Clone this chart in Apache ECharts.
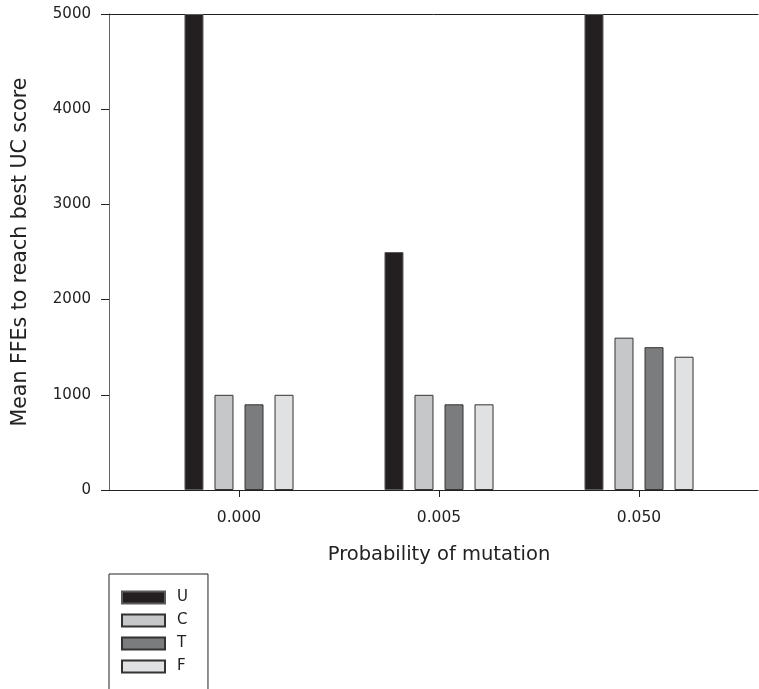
<!DOCTYPE html>
<html>
<head>
<meta charset="utf-8">
<script src="https://cdn.jsdelivr.net/npm/echarts@6/dist/echarts.min.js"></script>
<style>html,body{margin:0;padding:0;background:#fff;}#c{width:759px;height:689px;}</style>
</head>
<body>
<div id="c"></div>
<script>
const categories = ['0.000', '0.005', '0.050'];
const seriesNames = ['U', 'C', 'T', 'F'];
const valuesU = [5000, 2500, 5000];
const valuesC = [1000, 1000, 1600];
const valuesT = [900, 900, 1500];
const valuesF = [1000, 900, 1400];
const yTicks = [0, 1000, 2000, 3000, 4000, 5000];

const seriesValues = [valuesU, valuesC, valuesT, valuesF];
const fills = ['#231f20', '#c6c7c8', '#7b7c7e', '#e0e1e2'];
const borders = ['#5a5a5a', '#333333', '#333333', '#333333'];
const font = 'DejaVu Sans';
const textColor = '#222';

const chart = echarts.init(document.getElementById('c'));
chart.setOption({
  animation: false,
  backgroundColor: '#fff',
  grid: [
    { left: 139, width: 600, top: 14, height: 476 },
    { left: 109, right: 1, top: 14, height: 476 }
  ],
  xAxis: [
    {
      type: 'category', gridIndex: 0, data: categories,
      axisLine: { show: false },
      axisTick: { show: true, alignWithLabel: true, length: 7, lineStyle: { color: '#222' } },
      axisLabel: { margin: 20, fontFamily: font, fontSize: 15.5, color: textColor },
      name: 'Probability of mutation', nameLocation: 'middle', nameGap: 55,
      nameTextStyle: { fontFamily: font, fontSize: 19.5, color: textColor }
    },
    {
      type: 'value', gridIndex: 1, min: 0, max: 1, position: 'bottom',
      axisLine: { show: true, lineStyle: { color: '#222', width: 1 } },
      axisTick: { show: false }, axisLabel: { show: false }, splitLine: { show: false }
    },
    {
      type: 'value', gridIndex: 1, min: 0, max: 1, position: 'top',
      axisLine: { show: true, lineStyle: { color: '#222', width: 1 } },
      axisTick: { show: false }, axisLabel: { show: false }, splitLine: { show: false }
    }
  ],
  yAxis: [
    {
      type: 'value', gridIndex: 0, min: 0, max: 5000, show: false, splitLine: { show: false }
    },
    {
      type: 'value', gridIndex: 1, min: yTicks[0], max: yTicks[yTicks.length - 1], interval: 1000,
      axisLine: { show: true, lineStyle: { color: '#666', width: 1 } },
      axisTick: { show: true, length: 8, lineStyle: { color: '#222' } },
      axisLabel: { margin: 18, fontFamily: font, fontSize: 15, color: textColor, formatter: v => String(v) },
      splitLine: { show: false },
      name: 'Mean FFEs to reach best UC score', nameLocation: 'middle', nameGap: 78,
      nameTextStyle: { fontFamily: font, fontSize: 20.5, color: textColor }
    }
  ],
  legend: {
    data: seriesNames,
    orient: 'vertical', left: 109, top: 574, height: 100,
    borderColor: '#222', borderWidth: 1,
    padding: [16, 20, 30, 12],
    itemWidth: 43, itemHeight: 12, itemGap: 8,
    icon: 'rect',
    textStyle: { fontFamily: font, fontSize: 15, color: textColor, lineHeight: 12, padding: [0, 0, 0, 7] }
  },
  series: seriesNames.map((n, i) => ({
    name: n, type: 'bar', xAxisIndex: 0, yAxisIndex: 0,
    data: seriesValues[i],
    barWidth: 19, barGap: '58%',
    itemStyle: { color: fills[i], borderColor: borders[i], borderWidth: 1 }
  }))
});
</script>
</body>
</html>
